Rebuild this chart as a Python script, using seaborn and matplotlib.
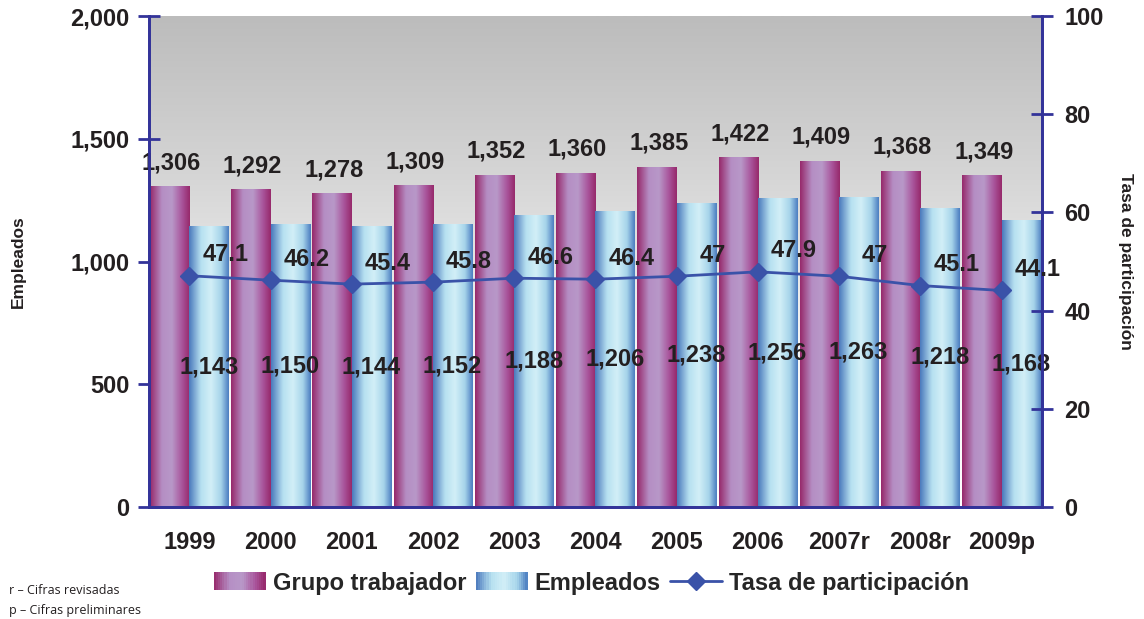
import numpy as np
import pandas as pd
import matplotlib
matplotlib.use("Agg")
import matplotlib.pyplot as plt
import seaborn as sns
from matplotlib.colors import LinearSegmentedColormap
from matplotlib.patches import Patch, Rectangle
from matplotlib.lines import Line2D
from matplotlib.legend_handler import HandlerBase
from matplotlib.ticker import FuncFormatter, MultipleLocator

years = ["1999", "2000", "2001", "2002", "2003", "2004", "2005", "2006", "2007r", "2008r", "2009p"]
grupo_trabajador = [1306, 1292, 1278, 1309, 1352, 1360, 1385, 1422, 1409, 1368, 1349]
empleados = [1143, 1150, 1144, 1152, 1188, 1206, 1238, 1256, 1263, 1218, 1168]
tasa = [47.1, 46.2, 45.4, 45.8, 46.6, 46.4, 47.0, 47.9, 47.0, 45.1, 44.1]

NAVY = "#333399"
LINE = "#3a52a8"
TXT = "#231f20"
FS = 17

sns.set_theme(style="white")
plt.rcParams["font.family"] = ["Liberation Sans", "DejaVu Sans"]
plt.rcParams["font.weight"] = "bold"

df = pd.DataFrame({
    "year": years * 2,
    "valor": grupo_trabajador + empleados,
    "serie": ["Grupo trabajador"] * len(years) + ["Empleados"] * len(years),
})

purple_cmap = LinearSegmentedColormap.from_list(
    "pur", [(0, "#96286a"), (0.3, "#b58ec4"), (0.55, "#b898c8"), (0.8, "#a9559c"), (1, "#96286a")])
blue_cmap = LinearSegmentedColormap.from_list(
    "blu", [(0, "#4a78bc"), (0.3, "#b6e0f0"), (0.55, "#d2eff7"), (0.8, "#a6d4ea"), (1, "#4a7cc0")])


class GradHandler(HandlerBase):
    def __init__(self, cmap):
        super().__init__()
        self.cmap = cmap

    def create_artists(self, legend, orig_handle, xdescent, ydescent, width, height,
                       fontsize, trans):
        k = 24
        arts = []
        for j in range(k):
            arts.append(Rectangle((-xdescent + j * width / k, -ydescent), width / k * 1.1, height,
                                  facecolor=self.cmap((j + 0.5) / k), edgecolor="none",
                                  transform=trans))
        return arts


fig = plt.figure(figsize=(11.44, 6.19), dpi=100)
ax = fig.add_axes([0.130, 0.181, 0.781, 0.793])

sns.barplot(data=df, x="year", y="valor", hue="serie", ax=ax, width=0.97, gap=0,
            palette=["#a8569a", "#8cc4e0"], legend=False, zorder=2)

grad = np.linspace(0, 1, 256).reshape(1, -1)
n = len(years)
for i, p in enumerate(ax.patches[:2 * n]):
    x0, w, h = p.get_x(), p.get_width(), p.get_height()
    cmap = purple_cmap if i < n else blue_cmap
    ax.imshow(grad, extent=[x0, x0 + w, 0, h], aspect="auto", cmap=cmap, zorder=2,
              interpolation="bicubic")
    p.set_visible(False)

# background gradient
bg = np.linspace(0, 1, 256).reshape(-1, 1)
bg_cmap = LinearSegmentedColormap.from_list("bg", ["#bcbcbc", "#d6d6d6", "#f4f4f4", "#ffffff"])
ax.imshow(bg, extent=[-0.5, 10.5, 0, 2000], aspect="auto", cmap=bg_cmap, zorder=0,
          origin="upper")

ax.set_xlim(-0.5, 10.5)
ax.set_ylim(0, 2000)

# value labels
for i in range(n):
    ax.text(i - 0.22, grupo_trabajador[i] + 50, f"{grupo_trabajador[i]:,}", ha="center",
            va="bottom", fontsize=FS, fontweight="bold", color=TXT, zorder=5)
    ax.text(i + 0.24, empleados[i] / 2, f"{empleados[i]:,}", ha="center", va="center",
            fontsize=FS, fontweight="bold", color=TXT, zorder=5)

ax.spines["top"].set_visible(False)
for s in ["left", "bottom", "right"]:
    ax.spines[s].set_color(NAVY)
    ax.spines[s].set_linewidth(2)

ax.yaxis.set_major_locator(MultipleLocator(500))
ax.yaxis.set_major_formatter(FuncFormatter(lambda v, _: f"{int(v):,}"))
ax.tick_params(axis="y", direction="inout", length=16, width=2, color=NAVY,
               labelsize=FS, labelcolor=TXT, pad=6)
ax.set_xticks(range(n))
ax.set_xticklabels(years, fontsize=FS, fontweight="bold", color=TXT)
ax.set_xticks(np.arange(-0.5, n, 1), minor=True)
ax.tick_params(axis="x", which="major", length=0, pad=17)
ax.tick_params(axis="x", which="minor", direction="out", length=8, width=2, color=NAVY)
for lab in ax.get_yticklabels():
    lab.set_fontweight("bold")
ax.set_xlabel("")
ax.set_ylabel("Empleados", fontsize=12.5, fontweight="bold", color=TXT)
ax.yaxis.set_label_coords(-0.137, 0.5)

ax2 = ax.twinx()
ax2.plot(range(n), tasa, color=LINE, linewidth=2, marker="D", markersize=9, zorder=4)
ax2.set_ylim(0, 100)
ax2.set_xlim(-0.5, 10.5)
ax2.yaxis.set_major_locator(MultipleLocator(20))
ax2.tick_params(axis="y", direction="inout", length=16, width=2, color=NAVY,
                labelsize=FS, labelcolor=TXT, pad=8)
for lab in ax2.get_yticklabels():
    lab.set_fontweight("bold")
ax2.spines["top"].set_visible(False)
for s in ["left", "bottom", "right"]:
    ax2.spines[s].set_color(NAVY)
    ax2.spines[s].set_linewidth(2)
ax2.set_ylabel("Tasa de participación", fontsize=12.5, fontweight="bold", color=TXT,
               rotation=-90, va="center")
ax2.yaxis.set_label_coords(1.093, 0.5)

for i, v in enumerate(tasa):
    ax2.annotate(f"{v:g}", (i, v), xytext=(36, 21), textcoords="offset pixels", ha="center",
                 va="center", fontsize=FS, fontweight="bold", color=TXT, zorder=6)

h_grupo = Patch(facecolor="#b07cb8", edgecolor="none")
h_emp = Patch(facecolor="#9ed0e8", edgecolor="none")
h_tasa = Line2D([0], [0], color=LINE, linewidth=2, marker="D", markersize=9)
fig.legend([h_grupo, h_emp, h_tasa], ["Grupo trabajador", "Empleados", "Tasa de participación"],
           loc="center", bbox_to_anchor=(0.517, 0.058), ncol=3, frameon=False,
           prop={"size": FS, "weight": "bold"}, handlelength=2.2, handleheight=0.8,
           handletextpad=0.3, columnspacing=0.4,
           handler_map={h_grupo: GradHandler(purple_cmap), h_emp: GradHandler(blue_cmap)})

fig.text(0.008, 0.04, "r \u2013 Cifras revisadas", fontsize=9, fontweight="normal",
         family="Open Sans", color=TXT)
fig.text(0.008, 0.008, "p \u2013 Cifras preliminares", fontsize=9, fontweight="normal",
         family="Open Sans", color=TXT)

fig.savefig("out.png", dpi=100)
